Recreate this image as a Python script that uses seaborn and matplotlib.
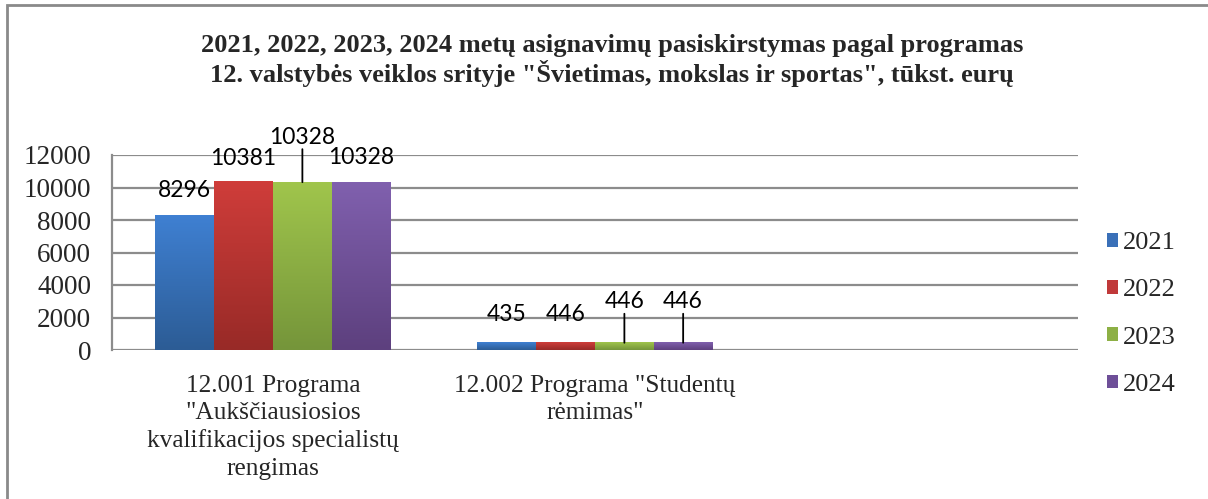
import numpy as np
import pandas as pd
import matplotlib
matplotlib.use("Agg")
import matplotlib.pyplot as plt
from matplotlib.patches import Patch, Rectangle
from matplotlib.colors import to_rgb
import seaborn as sns

# DATA
programs = [
    '12.001 Programa\n"Aukščiausiosios\nkvalifikacijos specialistų\nrengimas',
    '12.002 Programa "Studentų\nrėmimas"',
]
empty_slot = " "
years = ["2021", "2022", "2023", "2024"]
values_12001 = [8296, 10381, 10328, 10328]
values_12002 = [435, 446, 446, 446]

title = ('2021, 2022, 2023, 2024 metų asignavimų pasiskirstymas pagal programas\n'
         '12. valstybės veiklos srityje "Švietimas, mokslas ir sportas", tūkst. eurų')

# STYLE
top_colors = ["#3f80d2", "#cf3d3a", "#a0c54c", "#8060ae"]
bottom_colors = ["#2c5c95", "#982a27", "#75953a", "#5d407e"]
mid_colors = ["#3a70b8", "#c0393a", "#8db045", "#6e4f98"]
# label offsets in pixels above bar top (per program, per year)
label_offsets = [[25, 23, 45, 25], [28, 28, 41, 41]]
leader_years = [[False, False, True, False], [False, False, True, True]]

df = pd.DataFrame({
    "program": [programs[0]] * 4 + [programs[1]] * 4,
    "year": years * 2,
    "value": values_12001 + values_12002,
})

sns.set_style("white")
serif = ["Liberation Serif", "DejaVu Serif"]
plt.rcParams["font.family"] = serif

fig = plt.figure(figsize=(12.08, 4.99), dpi=100)
ax = fig.add_axes([112 / 1208, 1 - 350 / 499, (1078 - 112) / 1208, (350 - 155) / 499])

sns.barplot(data=df, x="program", y="value", hue="year", order=programs + [empty_slot],
            hue_order=years, palette=mid_colors, width=0.73, ax=ax, legend=False,
            saturation=1, errorbar=None)

# gradient fill for each bar
for ci, cont in enumerate(ax.containers):
    c_top = np.array(to_rgb(top_colors[ci]))
    c_bot = np.array(to_rgb(bottom_colors[ci]))
    t = np.linspace(0, 1, 100)[:, None]
    grad = (c_top[None, :] * (1 - t) + c_bot[None, :] * t)[:, None, :]
    for bar in cont:
        x0 = bar.get_x()
        w = bar.get_width()
        h = bar.get_height()
        bar.set_facecolor("none")
        bar.set_edgecolor("none")
        ax.imshow(grad, extent=[x0, x0 + w, 0, h], aspect="auto", zorder=2, origin="upper")

# data labels
for ci, cont in enumerate(ax.containers):
    for pi, bar in enumerate(cont):
        val = [values_12001, values_12002][pi][ci]
        cx = bar.get_x() + bar.get_width() / 2
        off = label_offsets[pi][ci]
        ax.annotate(f"{val}", xy=(cx, val), xytext=(0, off * 0.72), textcoords="offset points",
                    ha="center", va="center", fontsize=16.5, family=["Lato", "DejaVu Sans"],
                    color="black", annotation_clip=False, zorder=5)
        if leader_years[pi][ci]:
            ax.annotate("", xy=(cx, val), xytext=(0, (off - 12) * 0.72), textcoords="offset points",
                        arrowprops=dict(arrowstyle="-", color="black", lw=1.3,
                                        shrinkA=0, shrinkB=0),
                        annotation_clip=False, zorder=5)

ax.set_xlim(-0.5, 2.5)
ax.set_ylim(0, 12000)
ax.set_yticks(range(0, 12001, 2000))
ax.yaxis.grid(True, color="#8c8c8c", lw=1.6)
ax.set_axisbelow(True)
ax.set_xlabel("")
ax.set_ylabel("")
for s in ["top", "right", "bottom"]:
    ax.spines[s].set_visible(False)
ax.spines["left"].set_color("#8c8c8c")
ax.spines["left"].set_linewidth(1.6)
ax.tick_params(axis="y", labelsize=19.5, length=0, pad=15)
ax.tick_params(axis="x", labelsize=18.3, length=0, pad=18)
for lab in ax.get_xticklabels():
    lab.set_linespacing(1.3)
    lab.set_va("top")

# legend
handles = [Patch(facecolor=c, edgecolor="none") for c in mid_colors]
fig.legend(handles, years, loc="center left", bbox_to_anchor=(1094 / 1208, 1 - 314 / 499),
           frameon=False, fontsize=19, handlelength=0.4, handleheight=0.4,
           handletextpad=0.2, labelspacing=0.95, borderpad=0)

fig.suptitle(title, x=612 / 1208, y=1 - 34 / 499, va="top", fontsize=19, fontweight="bold",
             linespacing=1.13)

# outer chart frame
fig.patches.append(Rectangle((6.5 / 1208, -0.1), 1.2, 1.1 - 4.5 / 499, transform=fig.transFigure,
                             fill=False, edgecolor="#8a8a8a", lw=2))

fig.savefig("out.png", dpi=100)
